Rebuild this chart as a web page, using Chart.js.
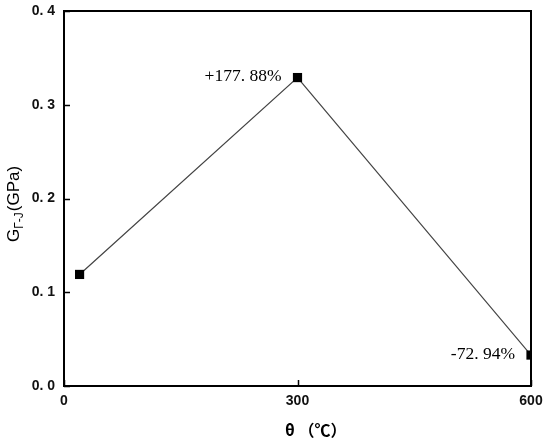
<!DOCTYPE html>
<html>
<head>
<meta charset="utf-8">
<script src="https://cdn.jsdelivr.net/npm/chart.js@4.4.1/dist/chart.umd.min.js"></script>
<style>
  html, body { margin: 0; padding: 0; background: #fff; }
  #wrap { width: 550px; height: 441px; }
</style>
</head>
<body>
<div id="wrap"><canvas id="c"></canvas></div>
<script>
// data
const temps = [20, 300, 600];
const shear = [0.119, 0.329, 0.033];
const notes = ['', '+177. 88%', '-72. 94%'];
const xTicks = [0, 300, 600];
const yTicks = [0, 0.1, 0.2, 0.3, 0.4];

// frame + inward tick marks + titles + point notes
const extras = {
  id: 'extras',
  afterDatasetsDraw(chart) {
    const ctx = chart.ctx;
    const a = chart.chartArea;
    const xs = chart.scales.x, ys = chart.scales.y;
    ctx.save();
    ctx.strokeStyle = '#000';
    ctx.lineWidth = 2;
    ctx.strokeRect(a.left, a.top, a.right - a.left, a.bottom - a.top);
    ctx.lineWidth = 1.5;
    ctx.beginPath();
    yTicks.forEach(v => {
      const y = Math.round(ys.getPixelForValue(v)) + 0.5;
      ctx.moveTo(a.left, y); ctx.lineTo(a.left + 6, y);
    });
    xTicks.forEach(v => {
      const x = Math.round(xs.getPixelForValue(v)) + 0.5;
      ctx.moveTo(x, a.bottom); ctx.lineTo(x, a.bottom - 6);
    });
    ctx.stroke();

    // notes beside the points
    ctx.fillStyle = '#000';
    ctx.font = '17.5px "Liberation Serif", serif';
    ctx.textAlign = 'right';
    ctx.textBaseline = 'middle';
    const meta = chart.getDatasetMeta(0);
    meta.data.forEach((p, i) => {
      if (!notes[i]) return;
      ctx.fillText(notes[i], p.x - 16, p.y - 1);
    });

    // x title
    ctx.font = 'bold 16px "Noto Sans CJK SC", "DejaVu Sans", sans-serif';
    ctx.textAlign = 'left';
    ctx.fillText('θ （℃）', 285, 430);

    // y title with subscript
    ctx.translate(14, 204);
    ctx.rotate(-Math.PI / 2);
    const big = '17px "Liberation Sans", sans-serif';
    const small = '12px "Liberation Sans", sans-serif';
    ctx.font = big; const wG = ctx.measureText('G').width;
    const wU = ctx.measureText('(GPa)').width;
    ctx.font = small; const wS = ctx.measureText('Γ-J').width;
    let x0 = -(wG + wS + wU + 1) / 2;
    ctx.textAlign = 'left';
    ctx.font = big; ctx.fillText('G', x0, 0); x0 += wG;
    ctx.font = small; ctx.fillText('Γ-J', x0, 6); x0 += wS + 1;
    ctx.font = big; ctx.fillText('(GPa)', x0, 0);
    ctx.restore();
  }
};

const tickFont = { family: '"Liberation Sans", sans-serif', size: 14, weight: 'bold' };

new Chart(document.getElementById('c').getContext('2d'), {
  type: 'line',
  data: {
    labels: temps,
    datasets: [{
      data: temps.map((t, i) => ({ x: t, y: shear[i] })),
      borderColor: '#444',
      borderWidth: 1.2,
      tension: 0,
      clip: 0,
      pointStyle: 'rect',
      pointRadius: 6.5,
      pointBackgroundColor: '#000',
      pointBorderColor: '#000',
      pointBorderWidth: 0
    }]
  },
  options: {
    responsive: true,
    maintainAspectRatio: false,
    animation: false,
    layout: { padding: { top: 11, right: 19, left: 0, bottom: 0 } },
    plugins: { legend: { display: false }, tooltip: { enabled: false } },
    scales: {
      x: {
        type: 'linear', min: 0, max: 600,
        afterBuildTicks: s => { s.ticks = xTicks.map(v => ({ value: v })); },
        afterFit: s => { s.height = 55; s.paddingLeft = 0; s.paddingRight = 0; },
        grid: { display: false, drawTicks: false },
        border: { display: false },
        ticks: { color: '#111', font: tickFont, padding: 7, maxRotation: 0 }
      },
      y: {
        min: 0, max: 0.4,
        afterBuildTicks: s => { s.ticks = yTicks.map(v => ({ value: v })); },
        afterFit: s => { s.width = 64; s.paddingTop = 0; s.paddingBottom = 0; },
        grid: { display: false, drawTicks: false },
        border: { display: false },
        ticks: { color: '#111', font: tickFont, padding: 9,
          callback: v => v.toFixed(1).replace('.', '. ') }
      }
    }
  },
  plugins: [extras]
});
</script>
</body>
</html>
